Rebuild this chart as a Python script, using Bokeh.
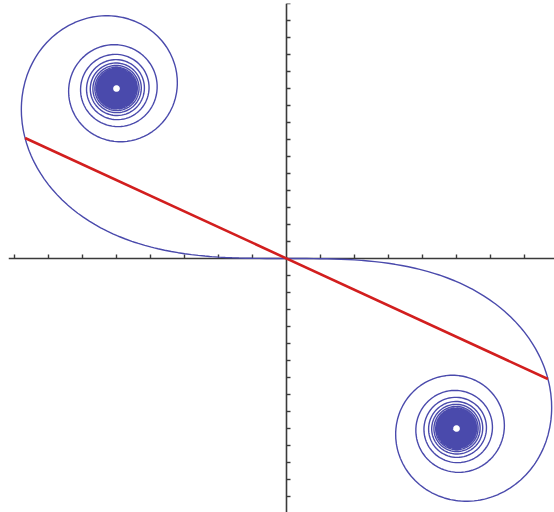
import numpy as np
from bokeh.plotting import figure
from bokeh.models import Range1d
from bokeh.embed import file_html
from bokeh.resources import INLINE

# Euler (Cornu) spiral: x = C(t), y = -S(t), t in [-T_MAX, T_MAX]
T_MAX = 27.0          # parameter extent of the spiral
T_CHORD = 0.915       # chord drawn between the curve points at -T_CHORD and +T_CHORD
x_ticks = [round(v, 2) for v in np.arange(-0.8, 0.81, 0.1) if abs(v) > 1e-9]
y_ticks = [round(v, 2) for v in np.arange(-0.75, 0.751, 0.05) if abs(v) > 1e-9]

# Fresnel integrals by cumulative trapezoid on a fine grid
dt = 0.0004
t = np.arange(0.0, T_MAX + dt, dt)
phase = np.pi * t ** 2 / 2
c = np.concatenate([[0.0], np.cumsum((np.cos(phase[1:]) + np.cos(phase[:-1])) / 2 * dt)])
s = np.concatenate([[0.0], np.cumsum((np.sin(phase[1:]) + np.sin(phase[:-1])) / 2 * dt)])

# keep points so that the tangent turns by a small, even step
keep = np.unique(np.concatenate([
    np.searchsorted(phase, np.arange(0.0, phase[-1], 0.08)),
    np.arange(0, len(t), 50),
    [len(t) - 1],
]))
cx, cy = c[keep], -s[keep]
xs = np.concatenate([-cx[::-1], cx[1:]])
ys = np.concatenate([-cy[::-1], cy[1:]])

k = int(round(T_CHORD / dt))
chord_x = [-c[k], c[k]]
chord_y = [s[k], -s[k]]

SCALE = 340.0  # screen pixels per unit
x0, x1 = -278 / SCALE, 268 / SCALE
y0, y1 = -254 / SCALE, 255 / SCALE
p = figure(width=554, height=512, output_backend="svg", toolbar_location=None,
           x_range=Range1d(x0, x1), y_range=Range1d(y0, y1),
           x_axis_location=None, y_axis_location=None,
           min_border_left=8, min_border_top=3, min_border_right=0, min_border_bottom=0)
p.outline_line_color = None
p.grid.visible = False
p.background_fill_color = "white"
p.border_fill_color = "white"

# axes through the origin, with short ticks on the positive side
AX = "#3a3a3a"
tick_len = 4 / SCALE
p.segment([x0, 0], [0, y0], [x1, 0], [0, y1], line_color=AX, line_width=1.6)
p.segment(x_ticks, [0] * len(x_ticks), x_ticks, [tick_len] * len(x_ticks),
          line_color=AX, line_width=1.4)
p.segment([0] * len(y_ticks), y_ticks, [tick_len] * len(y_ticks), y_ticks,
          line_color=AX, line_width=1.4)

p.line(xs, ys, line_color="#4a4aac", line_width=1.4)
p.line(chord_x, chord_y, line_color="#d21e1e", line_width=2.6)

open("out.html", "w").write(file_html(p, INLINE))
